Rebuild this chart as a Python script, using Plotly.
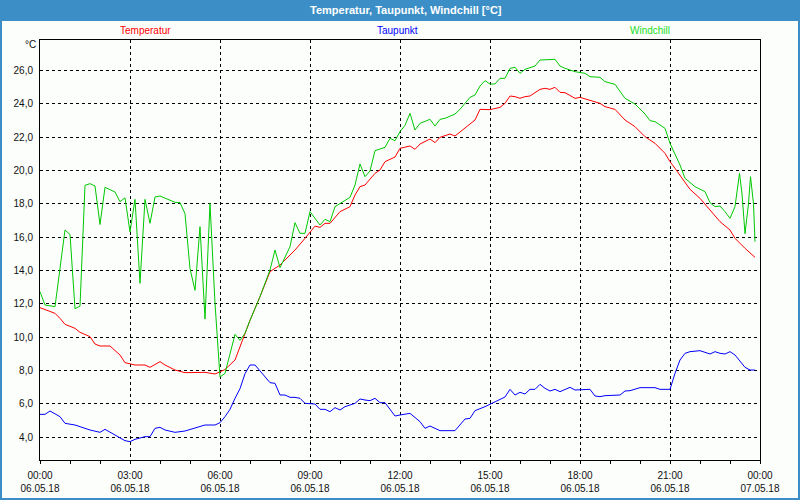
import plotly.graph_objects as go

# ---------------- data ----------------
temp_times = ["00:00","00:20","00:30","00:40","00:50","01:10","01:20","01:40","01:50","02:00",
              "02:20","02:40","02:50","03:10","03:30","03:40","04:00","04:10","04:30","04:50",
              "05:10","05:30","05:50","06:10","06:30","06:40","07:00","07:20","07:40","08:00",
              "08:30","08:50","09:10","09:20","09:30","09:40","10:00","10:20","10:30","10:40",
              "10:50","11:10","11:20","11:30","11:50","12:00","12:10","12:20","12:30","12:40",
              "13:00","13:10","13:20","13:40","13:50","14:10","14:30","14:40","15:00","15:20",
              "15:30","15:40","15:50","16:00","16:10","16:20","16:40","16:50","17:00","17:10",
              "17:20","17:30","17:50","18:00","18:20","18:40","18:50","19:10","19:30","19:50",
              "20:10","20:30","20:50","21:00","21:10","21:30","21:40","22:00","22:20","22:40",
              "23:00","23:10","23:30","23:50"]
temp_vals = [11.76,11.56,11.42,11.12,10.76,10.52,10.28,10.02,9.58,9.46,
             9.46,8.92,8.46,8.32,8.32,8.18,8.52,8.32,8.02,7.86,
             7.88,7.88,7.78,8.05,8.62,9.45,11.0,12.42,13.92,14.32,
             15.22,15.92,16.65,16.58,16.82,16.82,17.52,17.82,18.52,19.02,
             19.12,19.82,20.02,20.52,20.80,21.32,21.40,21.46,21.26,21.58,
             21.88,21.66,21.98,22.18,22.06,22.52,23.02,23.66,23.64,23.78,
             24.02,24.46,24.42,24.32,24.42,24.46,24.86,24.92,24.86,24.98,
             24.68,24.66,24.32,24.38,24.18,24.02,23.82,23.66,23.02,22.62,
             22.02,21.62,21.02,20.52,20.12,19.32,18.86,18.32,17.62,16.92,
             16.42,15.92,15.32,14.78]

dew_times = ["00:00","00:10","00:20","00:40","00:50","01:10","01:20","01:40","02:00","02:10",
             "02:30","02:50","03:00","03:10","03:30","03:40","03:50","04:00","04:10","04:30",
             "04:50","05:10","05:30","05:50","06:00","06:10","06:20","06:30","06:40","06:50",
             "07:00","07:10","07:20","07:30","07:40","07:50","08:00","08:10","08:20","08:30",
             "08:40","08:50","09:00","09:10","09:20","09:30","09:40","09:50","10:00","10:10",
             "10:30","10:40","10:50","11:00","11:10","11:20","11:30","11:40","11:50","12:00",
             "12:20","12:40","12:50","13:00","13:10","13:20","13:50","14:00","14:10","14:20",
             "14:30","14:50","15:00","15:10","15:30","15:40","15:50","16:00","16:10","16:20",
             "16:30","16:40","16:50","17:00","17:10","17:20","17:30","17:40","17:50","18:20",
             "18:30","18:40","18:50","19:00","19:20","19:30","19:40","20:00","20:30","20:40",
             "21:00","21:10","21:20","21:30","21:40","22:00","22:20","22:30","22:40","22:50",
             "23:00","23:10","23:20","23:30","23:40","23:50"]
dew_vals = [5.36,5.36,5.56,5.22,4.82,4.72,4.62,4.42,4.28,4.46,
            4.12,3.78,3.72,3.86,4.02,4.02,4.52,4.58,4.42,4.28,
            4.36,4.52,4.72,4.72,4.86,5.22,5.66,6.32,6.90,7.80,
            8.32,8.32,7.98,7.62,7.26,7.22,6.52,6.52,6.38,6.38,
            6.32,6.02,6.02,5.98,5.66,5.66,5.52,5.76,5.62,5.82,
            6.02,6.28,6.22,6.18,6.32,6.06,6.06,5.62,5.26,5.32,
            5.42,4.92,4.52,4.66,4.52,4.38,4.38,4.72,5.08,5.12,
            5.58,5.82,5.96,6.12,6.40,6.86,6.52,6.68,6.58,6.86,
            6.86,7.16,6.92,6.76,6.86,6.72,6.86,6.98,6.82,6.86,
            6.46,6.42,6.48,6.48,6.52,6.76,6.78,6.96,6.96,6.86,
            6.86,7.82,8.62,9.02,9.12,9.18,8.98,9.12,9.02,8.98,
            9.12,8.92,8.52,8.18,8.02,8.02]

wind_times = ["00:00","00:10","00:30","00:50","01:00","01:10","01:20","01:30","01:40","01:50",
              "02:00","02:10","02:30","02:40","02:50","03:00","03:10","03:20","03:30","03:40",
              "03:50","04:00","04:30","04:40","04:50","05:00","05:10","05:20","05:30","05:40",
              "05:50","06:00","06:10","06:30","06:40","06:50","07:00","07:20","07:40","07:50",
              "08:00","08:20","08:30","08:40","08:50","09:00","09:10","09:20","09:30","09:40",
              "09:50","10:10","10:20","10:30","10:40","10:50","11:00","11:10","11:30","11:40",
              "11:50","12:00","12:10","12:20","12:30","12:40","13:00","13:10","13:20","13:30",
              "13:50","14:00","14:10","14:20","14:30","14:40","14:50","15:00","15:10","15:20",
              "15:30","15:40","15:50","16:00","16:10","16:30","16:40","16:50","17:10","17:20",
              "17:30","17:50","18:10","18:20","18:40","18:50","19:10","19:30","19:50","20:10",
              "20:20","20:30","20:50","21:00","21:20","21:30","21:50","22:10","22:20","22:30",
              "22:40","22:50","23:00","23:10","23:19","23:24","23:30","23:37","23:41","23:47",
              "23:50"]
wind_vals = [12.72,11.92,11.82,16.42,16.15,11.70,11.85,19.10,19.20,19.06,
             16.75,18.98,18.70,18.12,18.35,16.30,18.26,13.22,18.26,16.82,
             18.40,18.46,18.08,18.06,17.40,14.10,12.80,16.62,11.08,18.02,
             12.02,7.60,7.82,10.16,9.80,10.22,11.00,12.42,14.02,15.22,
             14.16,15.42,16.86,16.22,16.22,17.52,17.12,16.72,17.06,16.92,
             17.82,18.22,18.38,19.12,20.38,19.62,19.96,21.18,21.38,21.92,
             21.78,22.32,22.70,23.42,22.42,22.82,23.06,22.66,23.06,23.12,
             23.38,23.66,24.02,24.38,24.52,25.06,25.38,25.18,25.18,25.52,
             25.52,26.12,26.18,25.82,26.06,26.26,26.62,26.62,26.66,26.26,
             26.12,25.92,25.82,25.62,25.58,25.32,25.16,24.32,23.98,23.38,
             22.98,22.92,22.52,21.62,20.32,19.52,19.02,18.72,18.06,17.82,
             17.86,17.52,17.12,17.82,19.82,18.60,16.20,18.00,19.62,18.00,
             15.72]

y_tick_vals = [4, 6, 8, 10, 12, 14, 16, 18, 20, 22, 24, 26]
y_tick_text = ["4,0", "6,0", "8,0", "10,0", "12,0", "14,0", "16,0", "18,0", "20,0", "22,0", "24,0", "26,0"]
x_tick_vals = ["2018-05-06 00:00", "2018-05-06 03:00", "2018-05-06 06:00", "2018-05-06 09:00",
               "2018-05-06 12:00", "2018-05-06 15:00", "2018-05-06 18:00", "2018-05-06 21:00",
               "2018-05-07 00:00"]
x_tick_text = ["00:00<br>06.05.18", "03:00<br>06.05.18", "06:00<br>06.05.18", "09:00<br>06.05.18",
               "12:00<br>06.05.18", "15:00<br>06.05.18", "18:00<br>06.05.18", "21:00<br>06.05.18",
               "00:00<br>07.05.18"]

day = "2018-05-06 "
FONT = "Liberation Sans"
TXT = "#101010"

fig = go.Figure()
fig.add_trace(go.Scatter(x=[day + t for t in temp_times], y=temp_vals, mode="lines",
                         line=dict(color="#ff0000", width=1), name="Temperatur"))
fig.add_trace(go.Scatter(x=[day + t for t in dew_times], y=dew_vals, mode="lines",
                         line=dict(color="#0000ff", width=1), name="Taupunkt"))
fig.add_trace(go.Scatter(x=[day + t for t in wind_times], y=wind_vals, mode="lines",
                         line=dict(color="#00c800", width=1), name="Windchill"))

W, H = 800, 500
L, R, T, B = 40, 40, 40, 40
pw, ph = W - L - R, H - T - B
def px(x):
    return (x - L) / pw
def py(y):
    return (H - B - y) / ph

fig.update_layout(
    width=W, height=H,
    margin=dict(l=L, r=R, t=T, b=B, autoexpand=False),
    paper_bgcolor="#fcfefc",
    plot_bgcolor="#fcfefc",
    showlegend=False,
    font=dict(family=FONT, size=10, color=TXT),
    xaxis=dict(
        type="date",
        range=["2018-05-06 00:00", "2018-05-07 00:00"],
        tickvals=x_tick_vals, ticktext=x_tick_text,
        showgrid=True, gridcolor="#000000", gridwidth=1, griddash="3px,3px",
        showline=True, linecolor="#000000", linewidth=1, mirror=True,
        ticks="outside", ticklen=3, tickcolor="#000000", tickwidth=1,
        minor=dict(dtick=3600000, ticks="outside", ticklen=3, tickcolor="#000000", showgrid=False),
        ticklabelstandoff=3,
        tickfont=dict(family=FONT, size=10, color=TXT),
        zeroline=False, fixedrange=True, automargin=False,
    ),
    yaxis=dict(
        range=[2.62, 27.82],
        tickvals=y_tick_vals, ticktext=y_tick_text,
        showgrid=True, gridcolor="#000000", gridwidth=1, griddash="3px,3px",
        showline=True, linecolor="#000000", linewidth=1, mirror=True,
        ticks="", ticklabelstandoff=4,
        tickfont=dict(family=FONT, size=10, color=TXT),
        zeroline=False, fixedrange=True, automargin=False,
    ),
    shapes=[
        dict(type="rect", xref="paper", yref="paper", x0=px(0), x1=px(800), y0=py(21), y1=py(0),
             fillcolor="#3c8fc6", line=dict(width=0), layer="below"),
        dict(type="rect", xref="paper", yref="paper", x0=px(1), x1=px(799), y0=py(499), y1=py(1),
             fillcolor="rgba(0,0,0,0)", line=dict(color="#3c8fc6", width=2), layer="above"),
    ],
    annotations=[
        dict(text="<b>Temperatur, Taupunkt, Windchill [°C]</b>", xref="paper", yref="paper",
             x=px(406), y=py(10), showarrow=False, xanchor="center", yanchor="middle",
             font=dict(family=FONT, size=11, color="#ffffff")),
        dict(text="Temperatur", xref="paper", yref="paper", x=px(145), y=py(30), showarrow=False,
             xanchor="center", yanchor="middle", font=dict(family=FONT, size=10, color="#ff0000")),
        dict(text="Taupunkt", xref="paper", yref="paper", x=px(397), y=py(30), showarrow=False,
             xanchor="center", yanchor="middle", font=dict(family=FONT, size=10, color="#0000ff")),
        dict(text="Windchill", xref="paper", yref="paper", x=px(650), y=py(30), showarrow=False,
             xanchor="center", yanchor="middle", font=dict(family=FONT, size=10, color="#22dd22")),
        dict(text="°C", xref="paper", yref="paper", x=px(38), y=py(45), showarrow=False,
             xanchor="right", yanchor="middle", font=dict(family=FONT, size=10, color=TXT)),
    ],
)

fig.write_html("out.html", config={"displayModeBar": False},
               post_script="document.body.style.margin='0';document.body.style.padding='0';")
